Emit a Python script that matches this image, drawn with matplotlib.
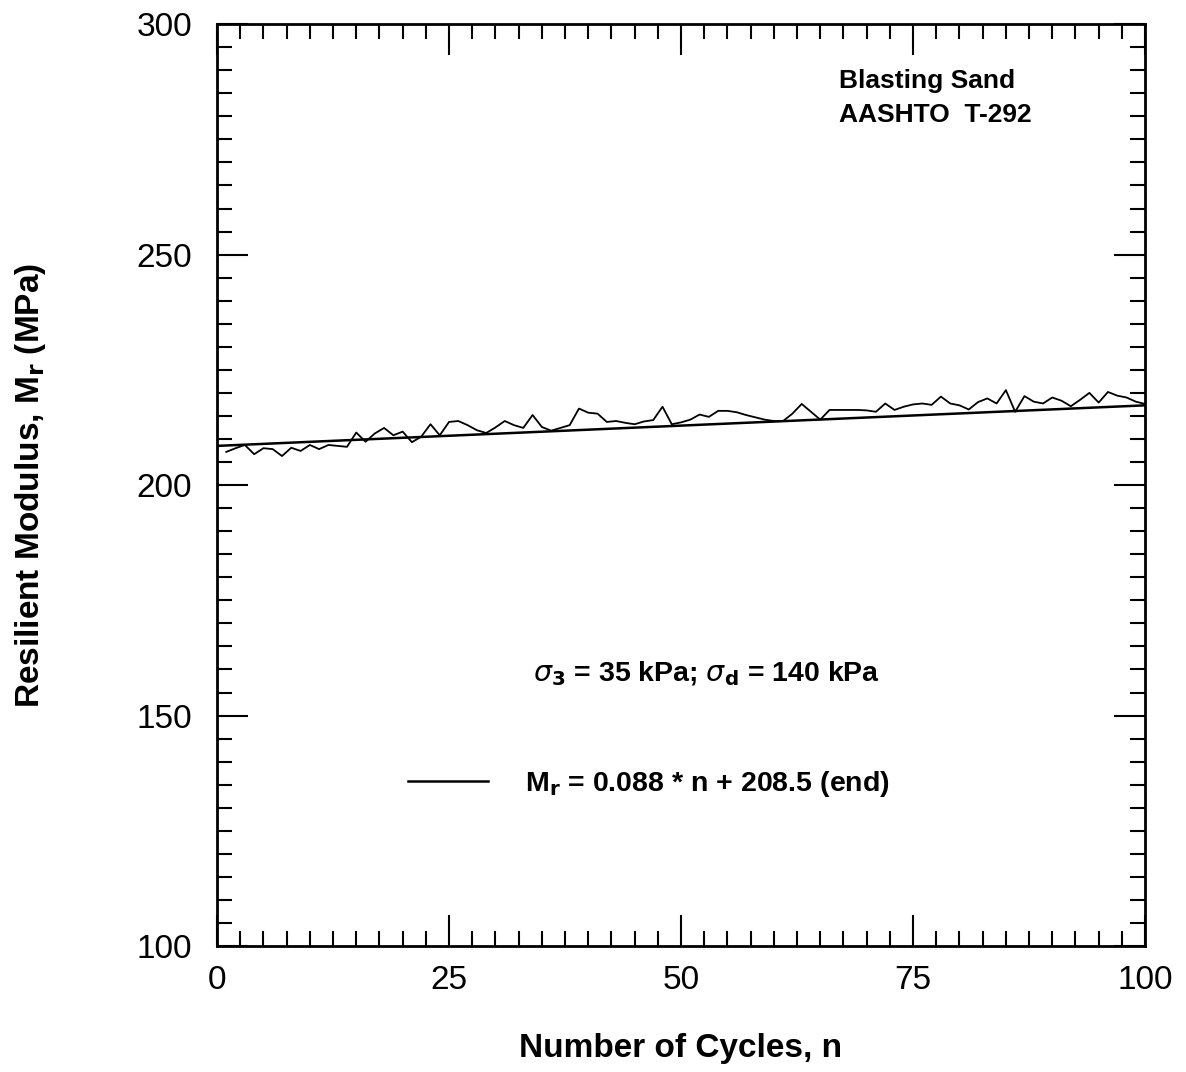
import numpy as np
import matplotlib.pyplot as plt
from matplotlib.ticker import MultipleLocator

cycles = list(range(1, 101))
mr_values = [
    207.2, 208.0, 208.7, 206.7, 208.0, 207.8, 206.3, 208.1, 207.4, 208.7,
    207.8, 208.7, 208.5, 208.3, 211.4, 209.4, 211.2, 212.4, 210.8, 211.6,
    209.3, 210.5, 213.2, 210.8, 213.7, 213.9, 213.0, 211.9, 211.3, 212.5,
    213.9, 213.0, 212.4, 215.2, 212.6, 211.8, 212.4, 213.0, 216.6, 215.7,
    215.5, 213.7, 213.9, 213.5, 213.2, 213.8, 214.1, 217.0, 213.2, 213.6,
    214.2, 215.3, 214.8, 216.1, 216.1, 215.8, 215.2, 214.7, 214.2, 213.9,
    213.9, 215.5, 217.6, 215.9, 214.2, 216.3, 216.3, 216.3, 216.3, 216.2,
    215.9, 217.7, 216.3, 217.0, 217.5, 217.7, 217.4, 219.2, 217.7, 217.3,
    216.4, 218.0, 218.8, 217.7, 220.6, 215.9, 219.3, 218.1, 217.7, 219.0,
    218.3, 217.1, 218.5, 220.0, 217.9, 220.2, 219.4, 219.0, 218.1, 217.6,
]

# linear fit reported on the chart
fit_slope = 0.088
fit_intercept = 208.5
fit_n = [0, 100]

FONT = "Liberation Sans"

fig = plt.figure(figsize=(11.86, 10.72), dpi=100, facecolor="white")
ax = fig.add_axes([0.183, 0.1175, 0.7825, 0.86])

ax.plot(cycles, mr_values, color="black", lw=1.3)
fit_y = [fit_slope * n + fit_intercept for n in fit_n]
ax.plot(fit_n, fit_y, color="black", lw=1.8,
        label=r"M$_\mathbf{r}$ = 0.088 * n + 208.5 (end)")

ax.set_xlim(0, 100)
ax.set_ylim(100, 300)
ax.xaxis.set_major_locator(MultipleLocator(25))
ax.xaxis.set_minor_locator(MultipleLocator(2.5))
ax.yaxis.set_major_locator(MultipleLocator(50))
ax.yaxis.set_minor_locator(MultipleLocator(5))
ax.tick_params(which="both", direction="in", top=True, right=True,
               width=1.5, labelsize=24, colors="black")
ax.tick_params(axis="x", pad=14)
ax.tick_params(axis="y", pad=18)
ax.tick_params(which="major", length=22)
ax.tick_params(which="minor", length=11)
for lab in ax.get_xticklabels() + ax.get_yticklabels():
    lab.set_fontfamily(FONT)
for sp in ax.spines.values():
    sp.set_linewidth(2)

ax.set_xlabel("Number of Cycles, n", fontsize=24, fontweight="bold",
              family=FONT, labelpad=26)
ax.set_ylabel(r"Resilient Modulus, M$_\mathbf{r}$ (MPa)", fontsize=24,
              fontweight="bold", family=FONT, labelpad=64)

ax.text(0.67, 0.92, "Blasting Sand\nAASHTO  T-292", transform=ax.transAxes,
        fontsize=19, fontweight="bold", family=FONT,
        va="center", ha="left", linespacing=1.5)
ax.text(0.527, 0.295, r"$\sigma_\mathbf{3}$ = 35 kPa; $\sigma_\mathbf{d}$ = 140 kPa",
        transform=ax.transAxes, fontsize=20.5, fontweight="bold",
        family=FONT, ha="center", va="center")

ax.legend(loc="center left", bbox_to_anchor=(0.178, 0.176), frameon=False,
          handlelength=2.8, handletextpad=1.3,
          prop={"family": FONT, "weight": "bold", "size": 20.5})

plt.savefig("out.png", dpi=100, facecolor="white")
plt.close(fig)
